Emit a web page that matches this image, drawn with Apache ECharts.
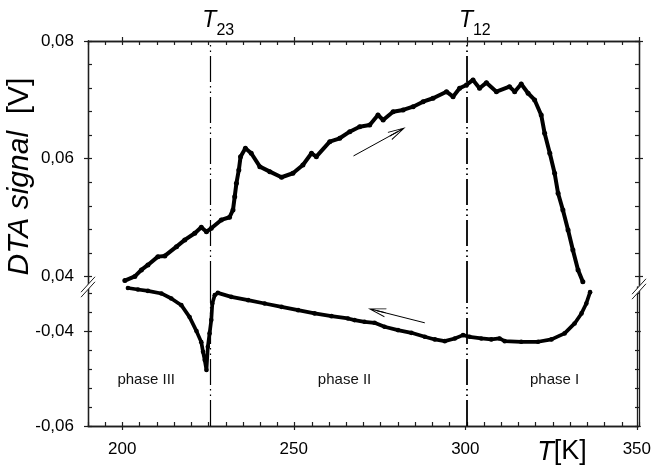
<!DOCTYPE html>
<html><head><meta charset="utf-8">
<script src="https://cdn.jsdelivr.net/npm/echarts@6/dist/echarts.min.js"></script>
<style>html,body{margin:0;padding:0;background:#fff}#c{width:654px;height:467px}</style>
</head><body><div id="c"></div>
<script>
// ---------- data ----------
const tempHeating = [200.7, 203.6, 205.5, 207.4, 210.3, 212.3, 215.7, 218.1, 221.0, 222.9, 224.4, 225.8, 228.7, 231.1, 232.1, 232.6, 233.1, 233.8, 234.3, 235.7, 237.4, 239.9, 242.8, 246.2, 249.5, 252.4, 254.9, 256.3, 260.2, 263.1, 266.0, 268.9, 271.8, 274.2, 275.7, 278.6, 281.5, 284.4, 287.3, 290.2, 294.1, 296.0, 297.9, 299.9, 301.8, 303.7, 305.7, 308.6, 312.4, 313.9, 315.8, 317.8, 319.7, 321.6, 322.6, 324.1, 325.5, 326.5, 327.9, 329.4, 330.8, 332.3, 333.7];
const signalHeating = [0.0393, 0.0400, 0.0411, 0.04195, 0.04336, 0.04348, 0.04506, 0.0462, 0.04733, 0.04835, 0.0476, 0.04818, 0.0496, 0.05005, 0.05129, 0.05355, 0.05583, 0.05809, 0.06035, 0.06177, 0.06092, 0.05865, 0.0578, 0.05685, 0.05753, 0.05894, 0.06092, 0.06035, 0.0629, 0.06347, 0.06459, 0.06544, 0.06573, 0.06743, 0.06658, 0.06799, 0.06828, 0.06884, 0.06969, 0.07027, 0.07139, 0.07054, 0.07197, 0.07253, 0.07338, 0.07197, 0.07292, 0.07139, 0.07224, 0.07139, 0.0727, 0.07112, 0.06998, 0.06743, 0.06432, 0.06092, 0.05753, 0.05413, 0.05129, 0.0479, 0.0445, 0.0411, 0.0391];

const tempCooling = [335.8, 334.7, 333.3, 331.3, 328.4, 324.6, 320.7, 315.8, 311.0, 309.5, 307.1, 304.2, 300.8, 298.9, 296.5, 293.6, 290.7, 287.8, 283.9, 280.0, 276.1, 273.2, 270.3, 267.4, 265.5, 260.7, 255.8, 251.0, 246.2, 241.3, 236.5, 231.6, 227.7, 226.8, 226.1, 225.8, 225.3, 224.8, 224.4, 223.9, 223.4, 222.9, 221.5, 219.5, 217.1, 214.2, 211.3, 207.4, 204.5, 201.6];
const signalCooling = [-0.03179, -0.03417, -0.03627, -0.03838, -0.04048, -0.04175, -0.04225, -0.04225, -0.04211, -0.04154, -0.04175, -0.04154, -0.0412, -0.04084, -0.04154, -0.04211, -0.04175, -0.0412, -0.04036, -0.03979, -0.03909, -0.03825, -0.03804, -0.03768, -0.03733, -0.03684, -0.03627, -0.03558, -0.03488, -0.03417, -0.03347, -0.03278, -0.03194, -0.03242, -0.03417, -0.03768, -0.04048, -0.04331, -0.04821, -0.04611, -0.04436, -0.04232, -0.04, -0.03705, -0.03453, -0.03312, -0.03206, -0.03152, -0.03122, -0.03091];

const xTickLabels = [200, 250, 300, 350];
const xMinorTicks = [190,195,200,205,210,215,220,225,230,235,240,245,250,255,260,265,270,275,280,285,290,295,300,305,310,315,320,325,330,335,340,345,350];
const yUpperTickLabels = [0.04, 0.06, 0.08];
const yUpperMinorTicks = [0.04,0.044,0.048,0.052,0.056,0.06,0.064,0.068,0.072,0.076,0.08];
const yLowerTickLabels = [-0.06, -0.04];
const yLowerMinorTicks = [-0.06,-0.056,-0.052,-0.048,-0.044,-0.04,-0.036,-0.032];

const transitionNames = ['23', '12'];
const transitionTemps = [225.5, 300];
const transitionWidths = [1.2, 1.8];

const phaseNames = ['phase III', 'phase II', 'phase I'];
const phaseTemps = [206.9, 264.5, 325.5];
const phaseSignal = -0.0502;

const arrowHeating = [[267.1, 0.06047], [279.95, 0.0646]];
const arrowCooling = [[287.8, -0.03825], [273.83, -0.03568]];

// ---------- layout ----------
const FONT = "'Liberation Sans', Arial, Helvetica, sans-serif";
const AXC = '#1e1e1e';
const L = 88, R = 15, TOP = 41, BREAK = 287, BOTTOM = 41;
const W = 654 - L - R;
const upperH = BREAK - TOP;
const lowerH = 467 - BOTTOM - BREAK;
const X_MIN = 190, X_MAX = 350;
const YU = [0.0382, 0.08];
const YL = [-0.06, -0.0307];

const ARROW = 'path://M4.5,0 L9,18 L8.1,18 L5,5.6 L5,18 L4,18 L4,5.6 L0.9,18 L0,18 Z';
const DASH = [26, 4, 1.5, 4, 1.5, 4];

const comma = v => v.toFixed(2).replace('.', ',');

function ax(gridIndex, position, min, max, ticks, inside, labels, isY) {
  const o = {
    type: 'value', gridIndex, position, min, max,
    splitLine: {show: false},
    axisLine: {show: true, onZero: false, lineStyle: {color: AXC, width: 1.3}},
    axisTick: {show: true, inside, length: 4, customValues: ticks, lineStyle: {color: AXC, width: 1.2}},
    axisLabel: {show: false}
  };
  if (labels) {
    o.axisLabel = {show: true, customValues: labels, color: '#000', fontSize: 17, fontFamily: FONT,
      margin: isY ? 14 : 15, formatter: isY ? comma : (v => String(v))};
  }
  return o;
}

const grid = [
  {left: L, top: TOP, width: W, height: upperH},
  {left: L, top: TOP, width: W, height: upperH},
  {left: L, top: BREAK, width: W, height: lowerH},
  {left: L, top: BREAK, width: W, height: lowerH}
];

const xAxis = [
  ax(0, 'top', X_MIN, X_MAX, xMinorTicks, true),
  ax(1, 'top', X_MIN, X_MAX, xTickLabels, false),
  ax(2, 'bottom', X_MIN, X_MAX, xMinorTicks, true),
  ax(3, 'bottom', X_MIN, X_MAX, xTickLabels, false, xTickLabels, false)
];
const yAxis = [
  ax(0, 'left', YU[0], YU[1], yUpperMinorTicks, true),
  ax(0, 'right', YU[0], YU[1], yUpperMinorTicks, true),
  ax(1, 'left', YU[0], YU[1], yUpperTickLabels, false, yUpperTickLabels, true),
  ax(1, 'right', YU[0], YU[1], yUpperTickLabels, false),
  ax(2, 'left', YL[0], YL[1], yLowerMinorTicks, true),
  ax(2, 'right', YL[0], YL[1], yLowerMinorTicks, true),
  ax(3, 'left', YL[0], YL[1], yLowerTickLabels, false, yLowerTickLabels, true),
  ax(3, 'right', YL[0], YL[1], yLowerTickLabels, false)
];

function vLines(withLabel) {
  return transitionTemps.map((t, i) => {
    const item = {xAxis: t, lineStyle: {type: DASH, width: transitionWidths[i], color: '#000'}, label: {show: false}};
    if (withLabel) {
      item.label = {
        show: true, position: 'end', distance: 2, padding: [0, 0, 0, 16],
        formatter: '{t|T}{s|' + transitionNames[i] + '}',
        rich: {
          t: {fontSize: 23, fontStyle: 'italic', fontFamily: FONT, color: '#000', lineHeight: 30, verticalAlign: 'top'},
          s: {fontSize: 16, fontFamily: FONT, color: '#000', lineHeight: 14, verticalAlign: 'bottom'}
        }
      };
    }
    return item;
  });
}
function arrowLine(a) {
  return [{coord: a[0], symbol: 'none'}, {coord: a[1], symbol: ARROW, symbolSize: [9, 18],
    lineStyle: {type: 'solid', width: 1, color: '#000'}, label: {show: false}}];
}

function curve(width, size) {
  return {
    type: 'line', showSymbol: true, symbol: 'circle', symbolSize: size,
    itemStyle: {color: '#000'}, lineStyle: {color: '#000', width: width, join: 'round', cap: 'round'},
    emphasis: {disabled: true}, z: 3
  };
}

const series = [
  Object.assign(curve(4, 5), {
    name: 'heating', xAxisIndex: 0, yAxisIndex: 0,
    data: tempHeating.map((t, i) => [t, signalHeating[i]]),
    markLine: {silent: true, animation: false, symbol: ['none', 'none'],
      data: vLines(true).concat([arrowLine(arrowHeating)])}
  }),
  Object.assign(curve(3.7, 4.6), {
    name: 'cooling', xAxisIndex: 2, yAxisIndex: 4,
    data: tempCooling.map((t, i) => [t, signalCooling[i]]),
    markLine: {silent: true, animation: false, symbol: ['none', 'none'],
      data: vLines(false).concat([arrowLine(arrowCooling)])},
    markPoint: {silent: true, animation: false, symbol: 'circle', symbolSize: 0,
      data: phaseNames.map((n, i) => ({coord: [phaseTemps[i], phaseSignal], value: n,
        label: {show: true, position: 'inside', formatter: n, color: '#111', fontSize: 15, fontFamily: FONT}}))}
  })
];

function breakMark(cx, cy) {
  const hx = 7, hy = 7.7, g = 2.5;
  return [
    {type: 'polygon', z: 100, shape: {points: [[cx - hx, cy + hy - g], [cx + hx, cy - hy - g], [cx + hx, cy - hy + g], [cx - hx, cy + hy + g]]}, style: {fill: '#fff'}},
    {type: 'line', z: 101, shape: {x1: cx - hx, y1: cy + hy - g, x2: cx + hx, y2: cy - hy - g}, style: {stroke: AXC, lineWidth: 1}},
    {type: 'line', z: 101, shape: {x1: cx - hx, y1: cy + hy + g, x2: cx + hx, y2: cy - hy + g}, style: {stroke: AXC, lineWidth: 1}}
  ];
}

const graphic = [
  ...breakMark(L, BREAK),
  ...breakMark(L + W, BREAK + 2),
  {type: 'text', z: 100, x: 20, y: 176.5, rotation: Math.PI / 2,
    style: {text: '{i|DTA signal\u00a0\u00a0}{n|[V]}', align: 'center', verticalAlign: 'middle', fill: '#000',
      rich: {i: {fontStyle: 'italic', fontSize: 30, fontFamily: FONT, fill: '#000'},
             n: {fontSize: 30, fontFamily: FONT, fill: '#000'}}}},
  {type: 'text', z: 100, x: 562, y: 452,
    style: {text: '{i|T}{n|[K]}', align: 'center', verticalAlign: 'middle', fill: '#000',
      rich: {i: {fontStyle: 'italic', fontSize: 27, fontFamily: FONT, fill: '#000'},
             n: {fontSize: 27, fontFamily: FONT, fill: '#000'}}}}
];

const chart = echarts.init(document.getElementById('c'), null, {renderer: 'canvas'});
chart.setOption({
  animation: false,
  backgroundColor: '#fff',
  grid, xAxis, yAxis, series, graphic
});
</script>
</body></html>
